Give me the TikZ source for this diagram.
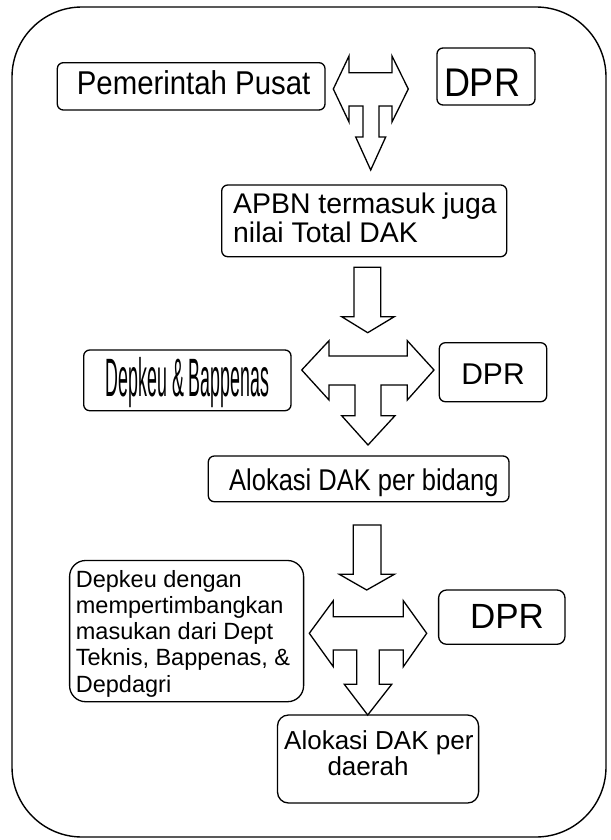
\documentclass[tikz,border=0pt]{standalone}
\usepackage{fontspec}
\setmainfont{Liberation Sans}
\usepackage{graphicx}
\usetikzlibrary{fit}
\begin{document}
\begin{tikzpicture}[x=1pt,y=-1pt,
  box/.style={draw, line width=1.3pt, rounded corners=6pt, inner sep=0pt},
  txt/.style={inner sep=0pt, anchor=base west},
  blk/.style={draw, line width=1.3pt, fill=white, line join=miter}]
\useasboundingbox (0,0) rectangle (610,840);
\draw[line width=1.4pt, rounded corners=70pt] (12,7) rectangle (606,837);

% boxes
\node[box, fit={(57.3,62.7) (325,110)}] (pp) {};
\node[box, fit={(437,48) (535,105)}] (dpr1) {};
\node[box, fit={(221.7,185) (506.7,256.7)}] (apbn) {};
\node[box, fit={(83.7,350) (291,410.7)}] (db) {};
\node[box, fit={(439.3,342.7) (546.7,401.7)}] (dpr2) {};
\node[box, fit={(208.3,456) (509,501.7)}] (alb) {};
\node[box, rounded corners=16pt, fit={(69.6,560.5) (303.6,701.7)}] (dd) {};
\node[box, rounded corners=8pt, fit={(438.6,590) (565,644.3)}] (dpr3) {};
\node[box, rounded corners=11pt, fit={(277.5,715) (478.6,803)}] (ald) {};

% texts
\node[txt, font=\fontsize{33}{33}\selectfont] (t1) at (76.7,94.3) {\scalebox{0.89}[1]{Pemerintah Pusat}};
\node[txt, anchor=base, font=\fontsize{40}{40}\selectfont] (t2) at (482,97) {\scalebox{0.9}[1]{DPR}};
\node[txt, font=\fontsize{28.4}{28.4}\selectfont] (t3) at (233,213) {APBN termasuk juga};
\node[txt, font=\fontsize{28.4}{28.4}\selectfont] (t4) at (233,242) {nilai Total DAK};
\node[txt, anchor=base, font=\fontsize{54}{54}\selectfont] (t5) at (187.5,396) {\scalebox{0.33}[1]{Depkeu \& Bappenas}};
\node[txt, anchor=base, font=\fontsize{30}{30}\selectfont] (t6) at (493,384) {DPR};
\node[txt, font=\fontsize{30}{30}\selectfont] (t7) at (229,490.7) {\scalebox{0.85}[1]{Alokasi DAK per bidang}};
\node[txt, font=\fontsize{23.5}{23.5}\selectfont] (t8) at (75.7,587) {Depkeu dengan};
\node[txt, font=\fontsize{23.5}{23.5}\selectfont] (t9) at (75.7,613.3) {mempertimbangkan};
\node[txt, font=\fontsize{23.5}{23.5}\selectfont] (t10) at (75.7,639.6) {masukan dari Dept};
\node[txt, font=\fontsize{23.5}{23.5}\selectfont] (t11) at (75.7,665.9) {Teknis, Bappenas, \&};
\node[txt, font=\fontsize{23.5}{23.5}\selectfont] (t12) at (75.7,692.2) {Depdagri};
\node[txt, anchor=base, font=\fontsize{35}{35}\selectfont] (t13) at (507,628.3) {DPR};
\node[txt, font=\fontsize{26}{26}\selectfont] (t14) at (284,749.3) {Alokasi DAK per};
\node[txt, anchor=base, font=\fontsize{26}{26}\selectfont] (t15) at (368,775) {daerah};

% block arrows
\draw[blk] (333.3,89) -- (349,56) -- (349,72.7) -- (392,72.7) -- (392,56) -- (408.3,89) -- (392,122) -- (392,106) -- (379,106) -- (379,137) -- (385.7,137) -- (370.7,170) -- (355.7,137) -- (363,137) -- (363,106) -- (349,106) -- (349,122) -- cycle;
\draw[blk] (354,267.3) -- (380.7,267.3) -- (380.7,316.7) -- (394.3,316.7) -- (367.7,332.7) -- (341.7,316.7) -- (354,316.7) -- cycle;
\draw[blk] (301.7,370) -- (329,340.7) -- (329,356) -- (407.3,356) -- (407.3,340.7) -- (434,370) -- (407.3,400) -- (407.3,385) -- (381,385) -- (381,415.7) -- (395,415.7) -- (368,445) -- (341.7,415.7) -- (355,415.7) -- (355,385) -- (329,385) -- (329,400) -- cycle;
\draw[blk] (353.3,525) -- (381,525) -- (381,574.3) -- (394.3,574.3) -- (366.7,590) -- (339.3,574.3) -- (353.3,574.3) -- cycle;
\draw[blk] (309.3,633.3) -- (333.3,600.7) -- (333.3,616.7) -- (403.3,616.7) -- (403.3,600.7) -- (426.7,633.3) -- (403.3,666.7) -- (403.3,650) -- (379.3,650) -- (379.3,684.3) -- (391.7,684.3) -- (367.7,715) -- (344.3,684.3) -- (356.7,684.3) -- (356.7,650) -- (333.3,650) -- (333.3,666.7) -- cycle;
\end{tikzpicture}
\end{document}
